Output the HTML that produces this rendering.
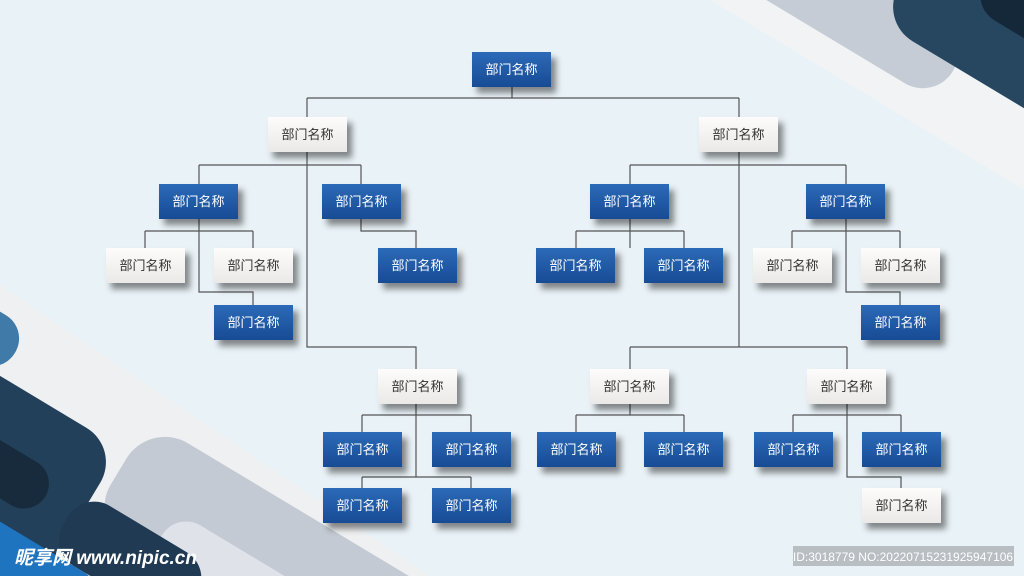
<!DOCTYPE html>
<html><head><meta charset="utf-8"><style>
html,body{margin:0;width:1024px;height:576px;overflow:hidden}
#c{position:relative;width:1024px;height:576px;overflow:hidden;background:#e9f2f7;font-family:"Liberation Sans","Noto Sans CJK SC",sans-serif}
.n{position:absolute;width:79px;height:35px;line-height:35px;text-align:center;font-size:13px;box-shadow:5px 6px 6px rgba(0,0,0,.45)}
.b{background:linear-gradient(#2c6ab8,#174b95);color:#fff}
.w{background:linear-gradient(#fdfcfb,#ebe9e8);color:#333}
svg{position:absolute;left:0;top:0;display:block}
</style></head><body><div id="c">
<svg width="1024" height="576">
<!-- top right decoration -->
<polygon points="710,0 1024,0 1024,190" fill="#f1f3f5"/>
<g transform="translate(880,-60) rotate(31)">
<rect x="-170" y="40" width="300" height="70" rx="35" fill="#c6ccd6"/>
<rect x="-200" y="0" width="250" height="40" rx="20" fill="#dde1e8"/>
<rect x="40" y="-40" width="260" height="110" rx="40" fill="#27465f"/>
<rect x="110" y="-60" width="200" height="70" rx="30" fill="#15283a"/>
</g>
<!-- bottom left decoration -->
<polygon points="0,285 0,576 430,576" fill="#eef0f2"/>
<g transform="translate(0,300) rotate(31)">
<rect x="190" y="26" width="420" height="120" rx="45" fill="#c4cad3"/>
<rect x="260" y="90" width="320" height="56" rx="28" fill="#dfe3e9"/>
<rect x="-150" y="10" width="190" height="55" rx="27" fill="#3f7aa8"/>
<rect x="-100" y="65" width="280" height="200" rx="40" fill="#22405a"/>
<rect x="-100" y="120" width="240" height="50" rx="25" fill="#172b3d"/>
<rect x="-100" y="150" width="150" height="40" rx="20" fill="#a9b5bb"/>
<rect x="-100" y="190" width="340" height="60" rx="28" fill="#1f74c0"/>
<rect x="170" y="120" width="150" height="70" rx="30" fill="#1f3a52"/>
</g>
<g fill="none" stroke="#555" stroke-width="1.2">
<path d="M512,87V98M307,98H739M307,98V117M739,98V117"/>
<path d="M307,152V347H416V369M199,165H361M199,165V184M361,165V184"/>
<path d="M199,219V292H253V305M145,231H253M145,231V248M253,231V248"/>
<path d="M361,219V231H416V248"/>
<path d="M416,404V477M362,415H471M362,415V432M471,415V432M362,477H471M362,477V488M471,477V488"/>
<path d="M739,152V347M630,165H846M630,165V184M846,165V184"/>
<path d="M630,219V248M576,231H684M576,231V248M684,231V248"/>
<path d="M846,219V292H900V305M792,231H900M792,231V248M900,231V248"/>
<path d="M630,347H847M630,347V369M847,347V369"/>
<path d="M630,404V415M576,415H684M576,415V432M684,415V432"/>
<path d="M847,404V477H901V488M793,415H901M793,415V432M901,415V432"/>
</g>
<rect x="793" y="546" width="221" height="20" fill="#b8bec2"/>
<text x="903" y="561" fill="#fff" font-size="12" text-anchor="middle" font-family="Liberation Sans, sans-serif">ID:3018779 NO:20220715231925947106</text>
<text x="14" y="564" fill="#fff" font-size="19" font-weight="bold" font-style="italic" font-family="Liberation Sans, Noto Sans CJK SC, sans-serif">昵享网 www.nipic.cn</text>
</svg>
<div class="n b" style="left:472px;top:52px">部门名称</div>
<div class="n w" style="left:268px;top:117px">部门名称</div>
<div class="n w" style="left:699px;top:117px">部门名称</div>
<div class="n b" style="left:159px;top:184px">部门名称</div>
<div class="n b" style="left:322px;top:184px">部门名称</div>
<div class="n w" style="left:106px;top:248px">部门名称</div>
<div class="n w" style="left:214px;top:248px">部门名称</div>
<div class="n b" style="left:214px;top:305px">部门名称</div>
<div class="n b" style="left:378px;top:248px">部门名称</div>
<div class="n w" style="left:378px;top:369px">部门名称</div>
<div class="n b" style="left:323px;top:432px">部门名称</div>
<div class="n b" style="left:432px;top:432px">部门名称</div>
<div class="n b" style="left:323px;top:488px">部门名称</div>
<div class="n b" style="left:432px;top:488px">部门名称</div>
<div class="n b" style="left:590px;top:184px">部门名称</div>
<div class="n b" style="left:806px;top:184px">部门名称</div>
<div class="n b" style="left:536px;top:248px">部门名称</div>
<div class="n b" style="left:644px;top:248px">部门名称</div>
<div class="n w" style="left:753px;top:248px">部门名称</div>
<div class="n w" style="left:861px;top:248px">部门名称</div>
<div class="n b" style="left:861px;top:305px">部门名称</div>
<div class="n w" style="left:590px;top:369px">部门名称</div>
<div class="n w" style="left:807px;top:369px">部门名称</div>
<div class="n b" style="left:537px;top:432px">部门名称</div>
<div class="n b" style="left:644px;top:432px">部门名称</div>
<div class="n b" style="left:754px;top:432px">部门名称</div>
<div class="n b" style="left:862px;top:432px">部门名称</div>
<div class="n w" style="left:862px;top:488px">部门名称</div>
</div></body></html>
